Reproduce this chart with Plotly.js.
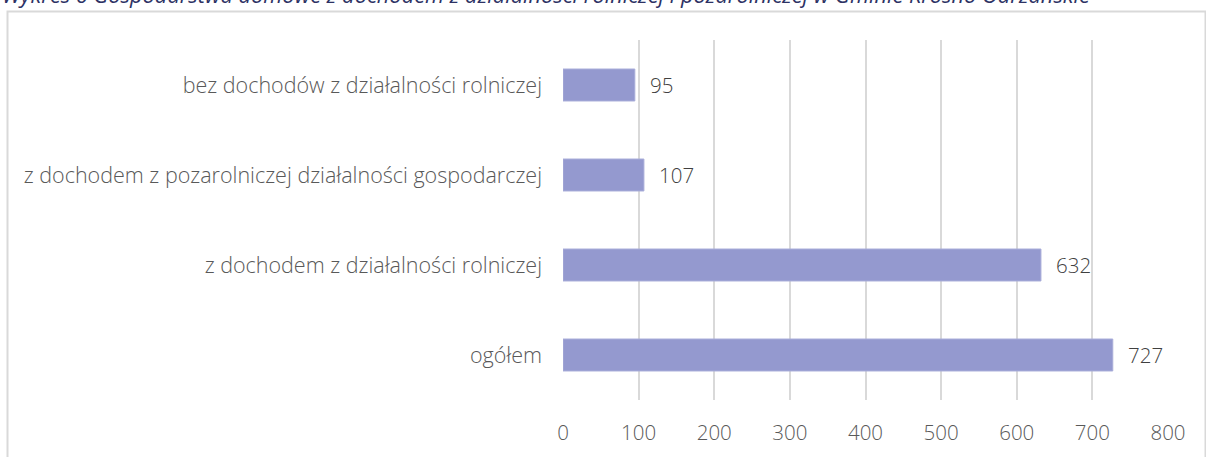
<!DOCTYPE html>
<html>
<head>
<meta charset="utf-8">
<script src="https://cdn.plot.ly/plotly-3.0.1.min.js"></script>
<style>html,body{margin:0;padding:0;background:#fff;}#chart{width:1206px;height:457px;}</style>
</head>
<body>
<div id="chart"></div>
<script>
var categories = ["ogółem", "z dochodem z działalności rolniczej", "z dochodem z pozarolniczej działalności gospodarczej", "bez dochodów z działalności rolniczej"];
var values = [727, 632, 107, 95];
var tickValues = [0, 100, 200, 300, 400, 500, 600, 700, 800];
var titleText = "Wykres 6 Gospodarstwa domowe z dochodem z działalności rolniczej i pozarolniczej w Gminie Krosno Odrzańskie";

var annotations = categories.map(function(c, i) {
  return {
    x: values[i], y: c, xref: 'x', yref: 'y',
    text: String(values[i]), showarrow: false,
    xanchor: 'left', xshift: 13,
    font: {family: 'Open Sans', size: 20.5, weight: 300, color: '#404040'}
  };
});
annotations.push({
  x: -563/605, y: 1, xref: 'paper', yref: 'paper',
  xanchor: 'left', yanchor: 'bottom', yshift: 29, xshift: 0,
  text: '<i>' + titleText + '</i>', showarrow: false,
  font: {family: 'Open Sans', size: 21.8, color: '#2D3264'}
});

var trace = {
  type: 'bar', orientation: 'h',
  x: values, y: categories,
  marker: {color: '#9499CF', line: {color: '#A9ADD9', width: 1}},
  hoverinfo: 'none'
};

var layout = {
  width: 1206, height: 457,
  margin: {l: 563, r: 38, t: 40, b: 57, pad: 0},
  paper_bgcolor: '#ffffff', plot_bgcolor: '#ffffff',
  showlegend: false,
  bargap: 0.645,
  xaxis: {
    range: [0, 800], tickvals: tickValues, ticktext: tickValues.map(String),
    showgrid: true, gridcolor: '#D9D9D9', gridwidth: 2,
    zeroline: false, showline: false, ticks: '',
    ticklabelstandoff: 18,
    tickfont: {family: 'Open Sans', size: 20.5, weight: 300, color: '#595959'}
  },
  yaxis: {
    categoryorder: 'array', categoryarray: categories,
    showgrid: false, zeroline: false, showline: false, ticks: '',
    ticklabelstandoff: 20,
    tickfont: {family: 'Open Sans', size: 21.5, weight: 300, color: '#595959'}
  },
  annotations: annotations,
  shapes: [{
    type: 'rect', xref: 'paper', yref: 'paper',
    x0: (7.5 - 563) / 605, x1: (1205.5 - 563) / 605,
    y0: (400 - 470) / 360, y1: (400 - 11.5) / 360,
    line: {color: '#D9D9D9', width: 2}, fillcolor: 'rgba(0,0,0,0)', layer: 'below'
  }]
};

Plotly.newPlot('chart', [trace], layout, {displayModeBar: false, staticPlot: true});
</script>
</body>
</html>
